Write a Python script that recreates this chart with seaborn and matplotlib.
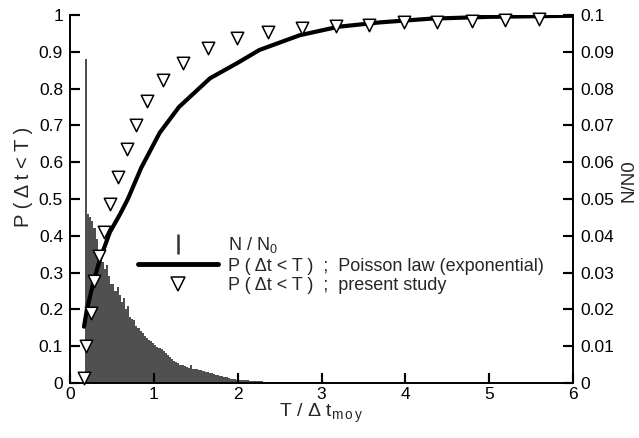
import numpy as np
import pandas as pd
import matplotlib
matplotlib.use("Agg")
import matplotlib.pyplot as plt
from matplotlib.lines import Line2D
from matplotlib.ticker import FixedLocator, FixedFormatter
import seaborn as sns

# ---------------- data ----------------
# histogram N/N0 (right axis), bins of width 0.025 starting at 0.18
hist_start = 0.18
hist_width = 0.025
hist_vals = [
    0.088, 0.046, 0.045, 0.044, 0.042, 0.039, 0.036, 0.034, 0.033, 0.031,
    0.032, 0.029, 0.027, 0.027, 0.025, 0.026, 0.024, 0.022, 0.023, 0.020,
    0.021, 0.018, 0.0175, 0.017, 0.0155, 0.015, 0.014, 0.0135, 0.0128, 0.0122,
    0.0118, 0.0113, 0.011, 0.0104, 0.0099, 0.0095, 0.0092, 0.0088, 0.0082, 0.0077,
    0.0071, 0.0066, 0.0061, 0.0058, 0.0054, 0.0050, 0.0048, 0.0046, 0.0044, 0.0042,
    0.0050, 0.0039, 0.0038, 0.0037, 0.0036, 0.0034, 0.0032, 0.0030, 0.0029, 0.0028,
    0.0026, 0.0024, 0.0023, 0.0022, 0.0020, 0.0018, 0.0017, 0.0016, 0.0014, 0.0012,
    0.0011, 0.0010, 0.0009, 0.0009, 0.0008, 0.0008, 0.0007, 0.0007, 0.0006, 0.0006,
    0.0006, 0.0005, 0.0005, 0.0005, 0.0005, 0.0004, 0.0004, 0.0004, 0.0004, 0.0004,
    0.0003, 0.0003, 0.0003, 0.0003, 0.0003, 0.0003, 0.0003, 0.0002, 0.0002, 0.0002,
    0.0002, 0.0002, 0.0002, 0.0002, 0.0002, 0.0002, 0.0002, 0.0002, 0.0002, 0.0002,
    0.0002, 0.0002, 0.0002, 0.0002, 0.0002, 0.0001, 0.0001, 0.0001, 0.0001, 0.0001,
    0.0001, 0.0001, 0.0001, 0.0001, 0.0001, 0.0001, 0.0001, 0.0001, 0.0001, 0.0001,
]

# Poisson law curve (left axis)
poisson_x = [0.167, 0.2, 0.278, 0.357, 0.476, 0.6, 0.69, 0.85, 1.07, 1.3,
             1.67, 2.0, 2.26, 2.74, 3.2, 3.7, 4.3, 5.0, 6.0]
poisson_y = [0.153, 0.198, 0.273, 0.336, 0.41, 0.46, 0.5, 0.585, 0.68, 0.75,
             0.828, 0.87, 0.905, 0.945, 0.968, 0.98, 0.99, 0.995, 0.998]

# present study (triangles)
study_x = [0.17, 0.19, 0.25, 0.29, 0.35, 0.40, 0.48, 0.57, 0.68, 0.79, 0.92,
           1.11, 1.35, 1.65, 1.99, 2.36, 2.77, 3.17, 3.57, 3.98, 4.38, 4.79,
           5.19, 5.60]
study_y = [0.014, 0.10, 0.19, 0.277, 0.345, 0.41, 0.486, 0.56, 0.636, 0.70,
           0.766, 0.823, 0.87, 0.91, 0.937, 0.953, 0.964, 0.969, 0.974, 0.98,
           0.982, 0.984, 0.987, 0.989]

left_ticks = [0, 0.1, 0.2, 0.3, 0.4, 0.5, 0.6, 0.7, 0.8, 0.9, 1]
left_labels = ["0", "0.1", "0.2", "0.3", "0.4", "0.5", "0.6", "0.7", "0.8", "0.9", "1"]
right_ticks = [0, 0.01, 0.02, 0.03, 0.04, 0.05, 0.06, 0.07, 0.08, 0.09, 0.1]
right_labels = ["0", "0.01", "0.02", "0.03", "0.04", "0.05", "0.06", "0.07", "0.08", "0.09", "0.1"]
x_ticks = [0, 1, 2, 3, 4, 5, 6]
x_labels = ["0", "1", "2", "3", "4", "5", "6"]

# ---------------- style ----------------
sns.set_style("ticks")
plt.rcParams["font.family"] = ["Liberation Sans", "DejaVu Sans"]
for k in ("xtick", "ytick"):
    plt.rcParams[k + ".direction"] = "in"
    plt.rcParams[k + ".major.size"] = 7
    plt.rcParams[k + ".major.width"] = 1.5
    plt.rcParams[k + ".color"] = "black"
    plt.rcParams[k + ".labelsize"] = 12.5

fig = plt.figure(figsize=(6.39, 4.38), dpi=100)
AX_W_PX, AX_H_PX = 503, 368
ax = fig.add_axes([70 / 639, (438 - 383) / 438, AX_W_PX / 639, AX_H_PX / 438])
ax2 = ax.twinx()

# histogram on right axis
n_bins = len(hist_vals)
centers = [round(hist_start + hist_width * (i + 0.5), 5) for i in range(n_bins)]
hdf = pd.DataFrame({"x": centers, "w": hist_vals})
sns.histplot(data=hdf, x="x", weights="w", binwidth=hist_width,
             binrange=(hist_start, hist_start + hist_width * n_bins), ax=ax2,
             color="#505050", edgecolor="#505050", linewidth=0.0, alpha=1.0,
             stat="count", legend=False)
ax2.set_ylim(0, 0.1)
ax2.yaxis.set_major_locator(FixedLocator(right_ticks))
ax2.yaxis.set_major_formatter(FixedFormatter(right_labels))
ax2.set_ylabel("N/N0", fontsize=13.5)
ax2.yaxis.set_label_coords(1.095, 0.55)

# curve and triangles on left axis
ax.set_zorder(ax2.get_zorder() + 1)
ax.patch.set_visible(False)
pdf = pd.DataFrame({"x": poisson_x, "y": poisson_y})
sns.lineplot(data=pdf, x="x", y="y", ax=ax, color="black", linewidth=3, sort=True)
sdf = pd.DataFrame({"x": study_x, "y": study_y})
sns.scatterplot(data=sdf, x="x", y="y", ax=ax, marker="v", s=80,
                facecolor="white", edgecolor="black", linewidth=1.1, clip_on=False, zorder=5)

ax.set_xlim(0, 6)
ax.set_ylim(0, 1)
ax.xaxis.set_major_locator(FixedLocator(x_ticks))
ax.xaxis.set_major_formatter(FixedFormatter(x_labels))
ax.yaxis.set_major_locator(FixedLocator(left_ticks))
ax.yaxis.set_major_formatter(FixedFormatter(left_labels))
ax.set_xlabel(r"T / Δ t$_{\mathregular{m\,o\,y}}$", fontsize=14)
ax.xaxis.set_label_coords(0.5, -0.05)
ax.set_ylabel("P ( Δ t < T )", fontsize=14.5)
ax.yaxis.set_label_coords(-0.074, 0.56)

ax.spines["top"].set_color("none")
ax2.spines["top"].set_color("none")
ax.spines["right"].set_color("none")
ax2.spines["left"].set_color("none")
ax2.spines["bottom"].set_color("none")
for sp in (ax.spines["left"], ax.spines["bottom"], ax2.spines["right"]):
    sp.set_linewidth(1.4)
    sp.set_color("black")

handles = [
    Line2D([], [], color="#333333", marker="|", markersize=15, markeredgewidth=1.8, linestyle="none"),
    Line2D([], [], color="black", linewidth=3.5),
    Line2D([], [], color="black", marker="v", markersize=9.5, markerfacecolor="white",
           markeredgewidth=1.1, linestyle="none"),
]
labels = [
    r"N / N$_{\mathregular{0}}$",
    "P ( Δt < T )  ;  Poisson law (exponential)",
    "P ( Δt < T )  ;  present study",
]
ax.legend(handles, labels, loc="upper left", bbox_to_anchor=(0.136, 0.402),
          frameon=False, fontsize=13, handlelength=4.4, handletextpad=0.55,
          labelspacing=0.15, borderpad=0, borderaxespad=0)

# ticks (inward)
ax.tick_params(axis="x", pad=3, bottom=True, top=False)
ax.tick_params(axis="y", pad=5, left=True, right=False)
ax2.tick_params(axis="y", pad=5, right=True, left=False)

# tick marks also drawn explicitly at the tick positions
TICK_PX = 8
ax.hlines(left_ticks, 0, TICK_PX / AX_W_PX, transform=ax.get_yaxis_transform(),
          colors="black", linewidth=1.5, clip_on=False, zorder=6)
ax.hlines(right_ticks, 1 - TICK_PX / AX_W_PX, 1, transform=ax2.get_yaxis_transform(),
          colors="black", linewidth=1.5, clip_on=False, zorder=6)
ax.vlines(x_ticks, 0, TICK_PX / AX_H_PX, transform=ax.get_xaxis_transform(),
          colors="black", linewidth=1.5, clip_on=False, zorder=6)

fig.savefig("out.png", dpi=100)
